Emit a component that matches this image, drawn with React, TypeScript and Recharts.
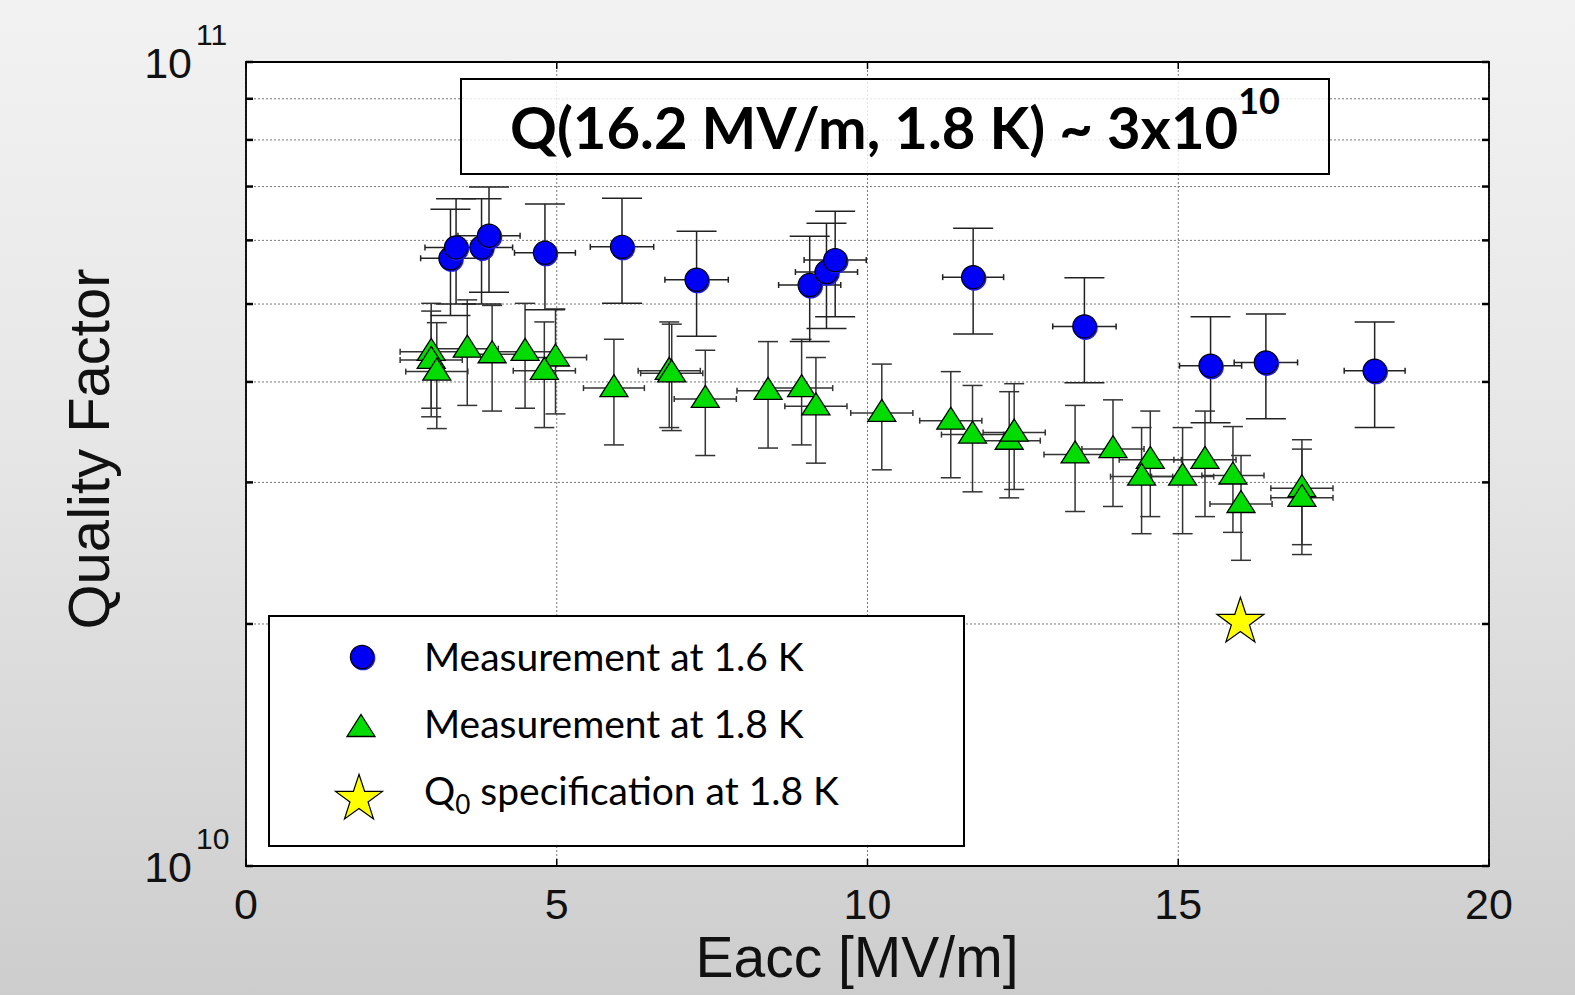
import React from 'react';
import { ScatterChart, Scatter, XAxis, YAxis, CartesianGrid, ErrorBar, Legend, ReferenceArea } from 'recharts';

// ---- Data (Q values in units of 1e10) ----
const blueE = [3.29, 3.38, 3.79, 3.91, 4.81, 6.05, 7.25, 9.07, 9.34, 9.48, 11.70, 13.49, 15.52, 16.41, 18.16];
const blueQ = [5.70, 5.88, 5.88, 6.08, 5.79, 5.89, 5.36, 5.28, 5.48, 5.67, 5.40, 4.69, 4.19, 4.23, 4.13];
const blueQErr = [0.86, 0.88, 0.88, 0.91, 0.87, 0.88, 0.80, 0.79, 0.82, 0.85, 0.81, 0.70, 0.63, 0.63, 0.62];
const blueEErr = [0.48, 0.5, 0.5, 0.5, 0.49, 0.51, 0.51, 0.5, 0.5, 0.5, 0.49, 0.51, 0.5, 0.51, 0.49];

const greenE = [2.98, 2.98, 3.07, 3.56, 3.96, 4.49, 4.98, 4.80, 5.92, 6.81, 6.85, 7.39, 8.40, 8.94, 9.17, 10.23, 11.34, 11.69, 12.28, 12.36, 13.34, 13.95, 14.55, 14.41, 15.07, 15.43, 15.88, 16.01, 16.99, 16.99];
const greenQ = [4.36, 4.26, 4.12, 4.40, 4.33, 4.36, 4.29, 4.13, 3.93, 4.13, 4.10, 3.81, 3.90, 3.93, 3.73, 3.66, 3.58, 3.44, 3.38, 3.46, 3.25, 3.30, 3.20, 3.05, 3.05, 3.20, 3.06, 2.82, 2.95, 2.87];
const greenQErr = [0.65, 0.64, 0.62, 0.66, 0.65, 0.65, 0.64, 0.62, 0.59, 0.62, 0.62, 0.57, 0.59, 0.59, 0.56, 0.55, 0.54, 0.52, 0.51, 0.52, 0.49, 0.50, 0.48, 0.46, 0.46, 0.48, 0.46, 0.42, 0.44, 0.43];
const greenEErr = [0.5, 0.5, 0.5, 0.5, 0.5, 0.5, 0.5, 0.5, 0.49, 0.5, 0.5, 0.5, 0.5, 0.5, 0.5, 0.5, 0.5, 0.5, 0.5, 0.5, 0.5, 0.5, 0.5, 0.5, 0.5, 0.5, 0.5, 0.5, 0.5, 0.5];

const specE = [16.0];
const specQ = [2.0];

const xTicks = [0, 5, 10, 15, 20];
const yTicks = [1, 2, 3, 4, 5, 6, 7, 8, 9, 10];
const yTickExponent: Record<number, string> = { 1: '10', 10: '11' };
const legendLabels = ['Measurement at 1.6 K', 'Measurement at 1.8 K', ' specification at 1.8 K'];
const xTitle = 'Eacc [MV/m]';
const yTitle = 'Quality Factor';
const boxTitle = 'Q(16.2 MV/m, 1.8 K) ~ 3x10';
const boxTitleExp = '10';

// ---- Layout ----
const W = 1575;
const H = 995;
const PL = 246;
const PT = 62;
const PR = 1489;
const PB = 866;
const PW = PR - PL;
const PH = PB - PT;
const Y_AXIS_W = 60;
const X_AXIS_H = 60;

const blueData = blueE.map((x, i) => ({ x, y: blueQ[i], ey: blueQErr[i], ex: blueEErr[i] }));
const greenData = greenE.map((x, i) => ({ x, y: greenQ[i], ey: greenQErr[i], ex: greenEErr[i] }));
const specData = specE.map((x, i) => ({ x, y: specQ[i] }));

const AX_FONT = '"Liberation Sans", Arial, Helvetica, sans-serif';
const CAL_FONT = 'Lato, "Open Sans", sans-serif';

const BlueDot = (p: any) => {
  const { cx, cy } = p;
  if (cx == null || cy == null) return null;
  return (
    <g>
      <circle cx={cx + 1} cy={cy + 1.2} r={12.3} fill="#1a1aff" />
      <circle cx={cx} cy={cy} r={11.6} fill="#0000f5" stroke="#000" strokeWidth={1.2} />
    </g>
  );
};

const triPath = (cx: number, cy: number) =>
  `M${cx},${cy - 13.5} L${cx + 14},${cy + 8.5} L${cx - 14},${cy + 8.5} Z`;

const GreenTri = (p: any) => {
  const { cx, cy } = p;
  if (cx == null || cy == null) return null;
  return <path d={triPath(cx, cy)} fill="#00dc00" stroke="#000" strokeWidth={1.3} strokeLinejoin="miter" />;
};

const starPath = (cx: number, cy: number, R: number, r: number) => {
  let d = '';
  for (let i = 0; i < 10; i++) {
    const rad = i % 2 === 0 ? R : r;
    const a = -Math.PI / 2 + (i * Math.PI) / 5;
    d += (i === 0 ? 'M' : 'L') + (cx + rad * Math.cos(a)).toFixed(2) + ',' + (cy + rad * Math.sin(a)).toFixed(2) + ' ';
  }
  return d + 'Z';
};

const SpecStar = (p: any) => {
  const { cx, cy } = p;
  if (cx == null || cy == null) return null;
  return <path d={starPath(cx, cy - 2, 24.7, 9.5)} fill="#ffff00" stroke="#000" strokeWidth={1.2} />;
};

const renderYTick = (props: any) => {
  const { x, y, payload } = props;
  const v = payload.value;
  const exp = yTickExponent[v];
  return (
    <g key={`yt-${v}`}>
      <line x1={x} x2={x + 7} y1={y} y2={y} stroke="#000" strokeWidth={2.5} />
      <line x1={x + PW} x2={x + PW - 7} y1={y} y2={y} stroke="#000" strokeWidth={2.5} />
      {exp && (
        <text x={x - 54} y={y + 16} textAnchor="end" fontSize={43} fontFamily={AX_FONT} fill="#111">
          10
        </text>
      )}
      {exp && (
        <text x={x - 50} y={y - 17} textAnchor="start" fontSize={30} fontFamily={AX_FONT} fill="#111">
          {exp}
        </text>
      )}
    </g>
  );
};

const renderXTick = (props: any) => {
  const { x, y, payload } = props;
  return (
    <g key={`xt-${payload.value}`}>
      <line x1={x} x2={x} y1={y} y2={y - 7} stroke="#000" strokeWidth={1.5} />
      <line x1={x} x2={x} y1={y - PH} y2={y - PH + 7} stroke="#000" strokeWidth={1.5} />
      <text x={x} y={y + 53} textAnchor="middle" fontSize={43} fontFamily={AX_FONT} fill="#111">
        {payload.value}
      </text>
    </g>
  );
};

const LegendBox = () => (
  <div
    style={{
      width: 697,
      height: 232,
      boxSizing: 'border-box',
      border: '2px solid #000',
      background: '#fff',
    }}
  >
    <svg width={693} height={228} style={{ display: 'block' }}>
      <circle cx={93} cy={41} r={12.3} fill="#1a1aff" />
      <circle cx={92} cy={40} r={11.6} fill="#0000f5" stroke="#000" strokeWidth={1.2} />
      <path d={triPath(91, 111)} fill="#00dc00" stroke="#000" strokeWidth={1.3} />
      <path d={starPath(89, 182, 24.7, 9.5)} fill="#ffff00" stroke="#000" strokeWidth={1.2} />
      <text x={154} y={54} fontSize={39} fontFamily={CAL_FONT} fill="#000">
        {legendLabels[0]}
      </text>
      <text x={154} y={121} fontSize={39} fontFamily={CAL_FONT} fill="#000">
        {legendLabels[1]}
      </text>
      <text x={154} y={188} fontSize={39} fontFamily={CAL_FONT} fill="#000">
        Q
        <tspan fontSize={26} dy={9}>0</tspan>
        <tspan dy={-9}>{legendLabels[2]}</tspan>
      </text>
    </svg>
  </div>
);

export default function App() {
  return (
    <div
      style={{
        position: 'absolute',
        left: 0,
        top: 0,
        width: W,
        height: H,
        background: 'linear-gradient(to bottom, #f2f2f2 0%, #e6e6e6 45%, #cdcdcd 100%)',
        overflow: 'hidden',
      }}
    >
      <ScatterChart
        width={W}
        height={H}
        margin={{ top: PT, right: W - PR, bottom: H - PB - X_AXIS_H, left: PL - Y_AXIS_W }}
      >
        <CartesianGrid
          stroke="#777"
          strokeDasharray="2 2"
          strokeWidth={1}
          fill="#ffffff"
          fillOpacity={1}
        />
        <XAxis
          type="number"
          dataKey="x"
          domain={[0, 20]}
          ticks={xTicks}
          allowDataOverflow
          height={X_AXIS_H}
          tickSize={0}
          tickMargin={0}
          axisLine={false}
          tickLine={false}
          tick={renderXTick}
          interval={0}
        />
        <YAxis
          type="number"
          dataKey="y"
          scale="log"
          domain={[1, 10]}
          ticks={yTicks}
          allowDataOverflow
          width={Y_AXIS_W}
          tickSize={0}
          tickMargin={0}
          axisLine={false}
          tickLine={false}
          tick={renderYTick}
          interval={0}
        />
        <ReferenceArea x1={0} x2={20} y1={1} y2={10} fill="none" stroke="#000" strokeWidth={1.8} ifOverflow="visible" />
        <Scatter data={greenData} shape={<GreenTri />} isAnimationActive={false}>
          <ErrorBar dataKey="ey" direction="y" width={10} stroke="#333" strokeWidth={1.5} isAnimationActive={false} />
          <ErrorBar dataKey="ex" direction="x" width={3} stroke="#333" strokeWidth={1.5} isAnimationActive={false} />
        </Scatter>
        <Scatter data={blueData} shape={<BlueDot />} isAnimationActive={false}>
          <ErrorBar dataKey="ey" direction="y" width={20} stroke="#222" strokeWidth={1.5} isAnimationActive={false} />
          <ErrorBar dataKey="ex" direction="x" width={3} stroke="#222" strokeWidth={1.5} isAnimationActive={false} />
        </Scatter>
        <Scatter data={specData} shape={<SpecStar />} isAnimationActive={false} />
        <Legend
          layout="horizontal"
          verticalAlign="middle"
          align="center"
          content={() => <LegendBox />}
          wrapperStyle={{ position: 'absolute', left: 268, top: 615, width: 697, height: 232 }}
        />
      </ScatterChart>
      <div
        style={{
          position: 'absolute',
          left: 460,
          top: 78,
          width: 870,
          height: 97,
          boxSizing: 'border-box',
          border: '2px solid #000',
          background: 'rgba(255,255,255,0.8)',
          fontFamily: CAL_FONT,
          fontWeight: 700,
          fontSize: 58,
          color: '#000',
          textAlign: 'center',
          lineHeight: '93px',
          whiteSpace: 'nowrap',
        }}
      >
        {boxTitle}
        <sup style={{ fontSize: 36, verticalAlign: 'top', position: 'relative', top: -26 }}>{boxTitleExp}</sup>
      </div>
      <svg width={W} height={H} style={{ position: 'absolute', left: 0, top: 0, pointerEvents: 'none' }}>
        <text x={857} y={977} textAnchor="middle" fontSize={57} fontFamily={AX_FONT} fill="#111">
          {xTitle}
        </text>
        <text
          x={0}
          y={0}
          transform={`translate(109, 449) rotate(-90)`}
          textAnchor="middle"
          fontSize={58}
          fontFamily={AX_FONT}
          fill="#111"
        >
          {yTitle}
        </text>
      </svg>
    </div>
  );
}
